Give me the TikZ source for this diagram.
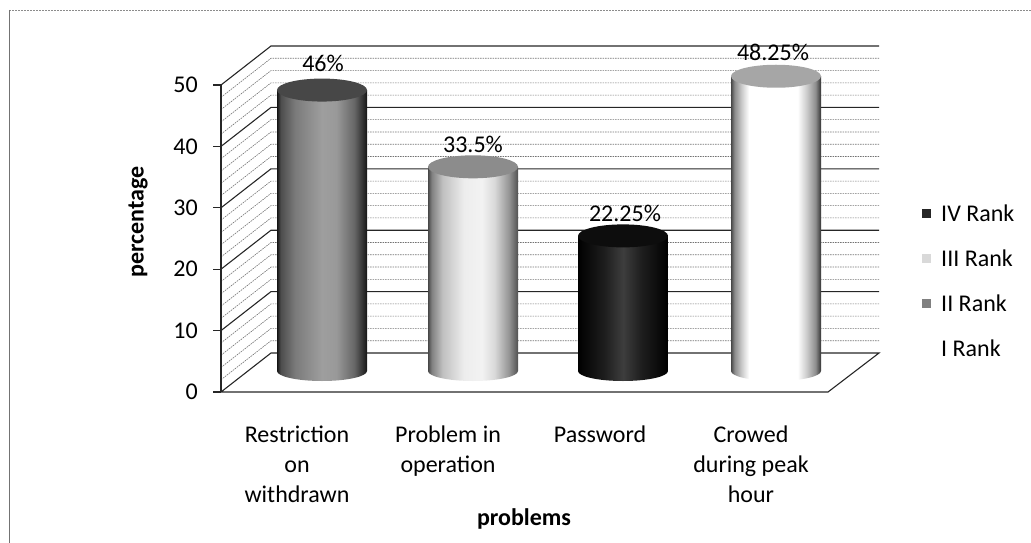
\documentclass[tikz,border=0pt]{standalone}
\usepackage{fontspec}
\setmainfont{Carlito}

% horizontal shadings for the cylinder bodies (left edge -> right edge)
\pgfdeclarehorizontalshading{cylrankII}{100bp}{%
  color(0bp)=(black!92); color(25bp)=(black!92); color(27bp)=(black!70);
  color(35bp)=(black!52); color(50bp)=(black!38); color(58bp)=(black!40);
  color(68bp)=(black!60); color(73bp)=(black!82); color(75bp)=(black!92);
  color(100bp)=(black!92)}
\pgfdeclarehorizontalshading{cylrankIII}{100bp}{%
  color(0bp)=(black!72); color(25bp)=(black!72); color(27bp)=(black!50);
  color(33bp)=(black!25); color(45bp)=(black!7); color(55bp)=(black!5);
  color(62bp)=(black!15); color(70bp)=(black!42); color(75bp)=(black!68);
  color(100bp)=(black!68)}
\pgfdeclarehorizontalshading{cylrankIV}{100bp}{%
  color(0bp)=(black); color(25bp)=(black); color(40bp)=(black!88);
  color(50bp)=(black!76); color(60bp)=(black!88); color(75bp)=(black);
  color(100bp)=(black)}
\pgfdeclarehorizontalshading{cylrankI}{100bp}{%
  color(0bp)=(black!72); color(25bp)=(black!72); color(27bp)=(black!45);
  color(31bp)=(black!20); color(35bp)=(white); color(62bp)=(white);
  color(67bp)=(black!20); color(72bp)=(black!45); color(75bp)=(black!80);
  color(100bp)=(black!80)}

\begin{document}
\begin{tikzpicture}[x=1pt,y=-1pt,
  lbl/.style={font=\fontsize{24}{30}\selectfont, inner sep=0pt},
  boldlbl/.style={font=\fontsize{24}{30}\selectfont\bfseries, inner sep=0pt},
  majorgrid/.style={line width=1.1pt, black!85},
  minorgrid/.style={line width=0.6pt, black!55, dash pattern=on 1.6pt off 0.9pt},
  framestyle/.style={line width=0.8pt, black!45, dash pattern=on 2pt off 1pt},
  swatch/.style={minimum size=9pt, inner sep=0pt, draw=none}]

\useasboundingbox (0,0) rectangle (1031,543);

% outer chart frame (top and left edges)
\draw[framestyle] (9,10) -- (1031,10);
\draw[line width=1pt, black!55] (9,10) -- (9,543);

% minor gridlines: left side wall and back wall
\foreach \v in {2,4,6,8,12,14,16,18,22,24,26,28,32,34,36,38,42,44,46,48}
  \draw[minorgrid] (221,{392-6.14*\v}) -- (271,{353-6.14*\v}) -- (879,{353-6.14*\v});

% major gridlines
\foreach \v in {10,20,30,40,50}
  \draw[majorgrid] (221,{392-6.14*\v}) -- (271,{353-6.14*\v}) -- (879,{353-6.14*\v});

% floor
\draw[majorgrid] (213,392) -- (828,392) -- (879,353) -- (271,353) -- (221,392);

% value axis with ticks and labels
\draw[majorgrid] (221,392) -- (221,85);
\foreach \v in {0,10,20,30,40,50} {
  \draw[majorgrid] (213,{392-6.14*\v}) -- (221,{392-6.14*\v});
  \node[lbl, anchor=east] (tick\v) at (198,{392-6.14*\v}) {\v};
}

% cylinders
\foreach \c/\v/\sh/\tp in {322/46/cylrankII/black!72, 473/33.5/cylrankIII/black!45,
                           623/22.25/cylrankIV/black!95, 776/48.25/cylrankI/black!35} {
  \pgfmathsetmacro\yt{372.5-6.14*\v}
  \shade[shading=\sh] (\c-45,\yt) -- (\c-45,371)
     arc[start angle=180, end angle=0, x radius=45, y radius=10]
     -- (\c+45,\yt) -- cycle;
  \fill[color=\tp] (\c,\yt) ellipse[x radius=45, y radius=11.5];
}

% data labels
\node[lbl] (val1) at (323,63) {46\%};
\node[lbl] (val2) at (473,144) {33.5\%};
\node[lbl] (val3) at (625,213) {22.25\%};
\node[lbl] (val4) at (773,52) {48.25\%};

% category labels
\node[lbl, align=center, anchor=north] (cat1) at (297,426) {Restriction\\on\\withdrawn};
\node[lbl, align=center, anchor=north] (cat2) at (448,426) {Problem in\\operation};
\node[lbl, align=center, anchor=north] (cat3) at (600,426) {Password};
\node[lbl, align=center, anchor=north] (cat4) at (751,426) {Crowed\\during peak\\hour};

% axis titles
\node[boldlbl, rotate=90] (ytitle) at (138,222) {percentage};
\node[boldlbl] (xtitle) at (524,519) {problems};

% legend
\node[swatch, fill=black!85] (sw4) at (926,213) {};
\node[lbl, anchor=west] (leg4) at (941,213) {IV Rank};
\node[swatch, fill=black!15] (sw3) at (926,258) {};
\node[lbl, anchor=west] (leg3) at (941,258) {III Rank};
\node[swatch, fill=black!50] (sw2) at (926,303) {};
\node[lbl, anchor=west] (leg2) at (941,303) {II Rank};
\node[swatch, fill=white] (sw1) at (926,348) {};
\node[lbl, anchor=west] (leg1) at (941,348) {I Rank};

\end{tikzpicture}
\end{document}
